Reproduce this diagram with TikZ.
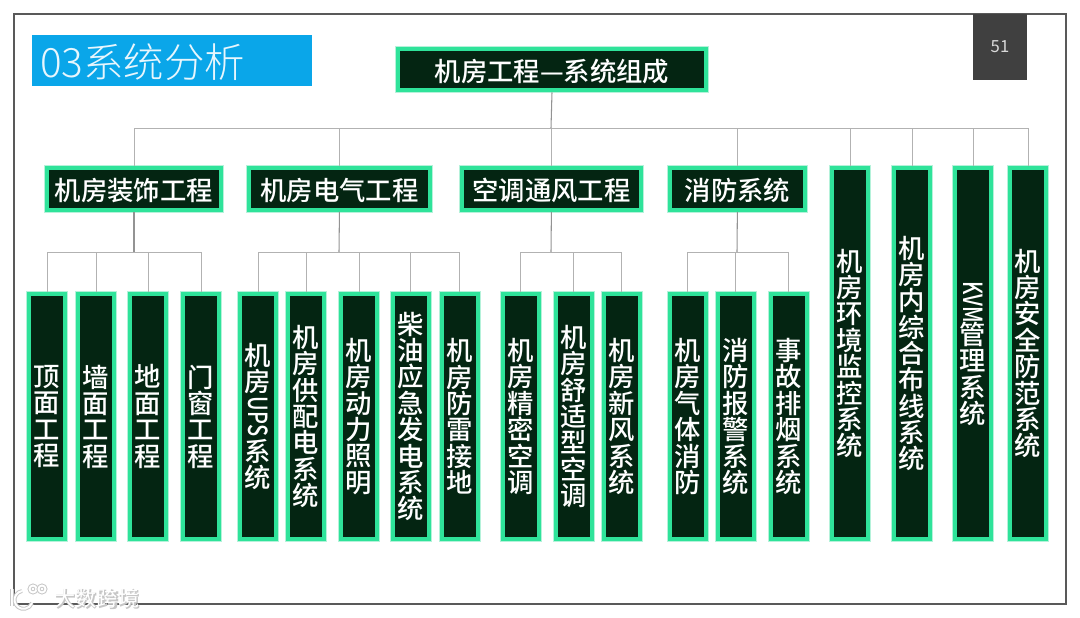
\documentclass[tikz,border=0pt]{standalone}
\usepackage{fontspec}
\usepackage{graphicx}
\setmainfont{Noto Sans CJK SC}
\newfontfamily\boxfont{Noto Sans CJK SC Medium}
\newfontfamily\titlefont{Noto Sans CJK SC Light}
\usepackage{tikz}
\usetikzlibrary{positioning}
\definecolor{boxfill}{HTML}{042512}
\definecolor{boxline}{HTML}{2FE39A}
\definecolor{boxglow}{HTML}{B5F2DA}
\definecolor{titleblue}{HTML}{0AA6E9}
\definecolor{pagegray}{HTML}{404040}
\newcommand{\vlatin}[2]{\raisebox{12pt}{\rotatebox{-90}{\scalebox{#1}[1]{#2}}}}
\lineskiplimit=-20pt

\begin{document}
\begin{tikzpicture}[
    x=0.02cm, y=-0.02cm,
    box/.style={draw=boxline, fill=boxfill, line width=0.08cm, text=white, align=center, inner sep=0pt,
        font=\fontsize{15}{15}\selectfont\boxfont,
        preaction={draw=boxglow, line width=0.12cm}},
    head/.style={box, minimum height=0.84cm, text height=13.5pt, text depth=0.4pt},
    leaf/.style={box, minimum width=0.72cm, minimum height=4.9cm},
    pillar/.style={box, minimum width=0.72cm, minimum height=7.42cm},
    link/.style={draw=gray!60, line width=0.5pt},
    trunk/.style={draw=gray!85, line width=0.6pt},
    markline/.style={draw=white, line width=1.1pt, preaction={draw=gray!45, line width=2.2pt}}
]
\useasboundingbox (0,0) rectangle (1080,618);

% Slide frame
\draw[draw=black!65, line width=0.8pt] (14,14) rectangle (1066,604);

% Title and page number
\node[fill=titleblue, minimum width=5.6cm, minimum height=1.02cm, inner sep=0pt] (title) at (172,60.5) {};
\node[anchor=west, text=white!90!titleblue, font=\fontsize{23}{23}\selectfont\titlefont] (titletext) at (34,62) {03系统分析};
\node[fill=pagegray, text=white!85!black, minimum width=1.08cm, minimum height=1.32cm, inner sep=0pt, font=\fontsize{9.5}{9.5}\selectfont] (page) at (1000,47) {51};

% Top box
\node[head, minimum width=6.16cm] (top) at (552,69.5) {机房工程—系统组成};

% Second row
\node[head, minimum width=3.48cm] (deco) at (134,189) {机房装饰工程};
\node[head, minimum width=3.62cm, right=0.48cm of deco] (elec) {机房电气工程};
\node[head, minimum width=3.58cm, right=0.56cm of elec] (air) {空调通风工程};
\node[head, minimum width=2.70cm, right=0.50cm of air] (fire) {消防系统};

% Tall boxes on the right
\node[pillar] (mon) at (850,353.5) {机\\房\\环\\境\\监\\控\\系\\统};
\node[pillar, right=0.44cm of mon] (cable) {机\\房\\内\\综\\合\\布\\线\\系\\统};
\node[pillar, right=0.42cm of cable] (kvm) {\vlatin{0.76}{KVM}\\[9pt]管\\理\\系\\统};
\node[pillar, right=0.30cm of kvm] (safe) {机\\房\\安\\全\\防\\范\\系\\统};

% Decoration group
\node[leaf] (d1) at (47,416.5) {顶\\面\\工\\程};
\node[leaf, right=0.18cm of d1] (d2) {墙\\面\\工\\程};
\node[leaf, right=0.24cm of d2] (d3) {地\\面\\工\\程};
\node[leaf, right=0.26cm of d3] (d4) {门\\窗\\工\\程};

% Electrical group
\node[leaf, right=0.34cm of d4] (e1) {机\\房\\\vlatin{0.76}{UPS}\\[10pt]系\\统};
\node[leaf, right=0.16cm of e1] (e2) {机\\房\\供\\配\\电\\系\\统};
\node[leaf, right=0.26cm of e2] (e3) {机\\房\\动\\力\\照\\明};
\node[leaf, right=0.24cm of e3] (e4) {柴\\油\\应\\急\\发\\电\\系\\统};
\node[leaf, right=0.18cm of e4] (e5) {机\\房\\防\\雷\\接\\地};

% Air conditioning group
\node[leaf, right=0.42cm of e5] (a1) {机\\房\\精\\密\\空\\调};
\node[leaf, right=0.26cm of a1] (a2) {机\\房\\舒\\适\\型\\空\\调};
\node[leaf, right=0.16cm of a2] (a3) {机\\房\\新\\风\\系\\统};

% Fire group
\node[leaf, right=0.52cm of a3] (f1) {机\\房\\气\\体\\消\\防};
\node[leaf, right=0.16cm of f1] (f2) {消\\防\\报\\警\\系\\统};
\node[leaf, right=0.26cm of f2] (f3) {事\\故\\排\\烟\\系\\统};

% Bus points
\coordinate (bustop) at (551,128);
\coordinate (busd) at (134,252);
\coordinate (buse) at (339,252);
\coordinate (busa) at (551,252);
\coordinate (busf) at (737,252);

% Edges from the top box
\draw[link] (deco.north) |- (bustop);
\draw[link] (elec.north) |- (bustop);
\draw[link] (air.north) |- (bustop);
\draw[link] (fire.north) |- (bustop);
\draw[link] (mon.north) |- (bustop);
\draw[link] (cable.north) |- (bustop);
\draw[link] (kvm.north) |- (bustop);
\draw[link] (safe.north) |- (bustop);
\draw[trunk] (top.south) -- (bustop);

% Edges to the lower row
\draw[link] (d1.north) |- (busd);
\draw[link] (d2.north) |- (busd);
\draw[link] (d3.north) |- (busd);
\draw[link] (d4.north) |- (busd);
\draw[trunk] (deco.south) -- (busd);

\draw[link] (e1.north) |- (buse);
\draw[link] (e2.north) |- (buse);
\draw[link] (e3.north) |- (buse);
\draw[link] (e4.north) |- (buse);
\draw[link] (e5.north) |- (buse);
\draw[trunk] (elec.south) -- (buse);

\draw[link] (a1.north) |- (busa);
\draw[link] (a2.north) |- (busa);
\draw[link] (a3.north) |- (busa);
\draw[trunk] (air.south) -- (busa);

\draw[link] (f1.north) |- (busf);
\draw[link] (f2.north) |- (busf);
\draw[link] (f3.north) |- (busf);
\draw[trunk] (fire.south) -- (busf);

% Watermark
\draw[markline] (12,589) -- (12,606);
\draw[markline] (22,591) arc[start angle=260, end angle=20, radius=9];
\draw[markline] (33,589) circle[radius=3.5];
\draw[markline] (42,589) circle[radius=3.5];
\node[text=gray!45, font=\fontsize{12}{12}\selectfont\bfseries, xshift=0.6pt, yshift=-0.6pt] (markback) at (97,598) {大数跨境};
\node[text=white, font=\fontsize{12}{12}\selectfont] (mark) at (97,598) {大数跨境};
\end{tikzpicture}
\end{document}
